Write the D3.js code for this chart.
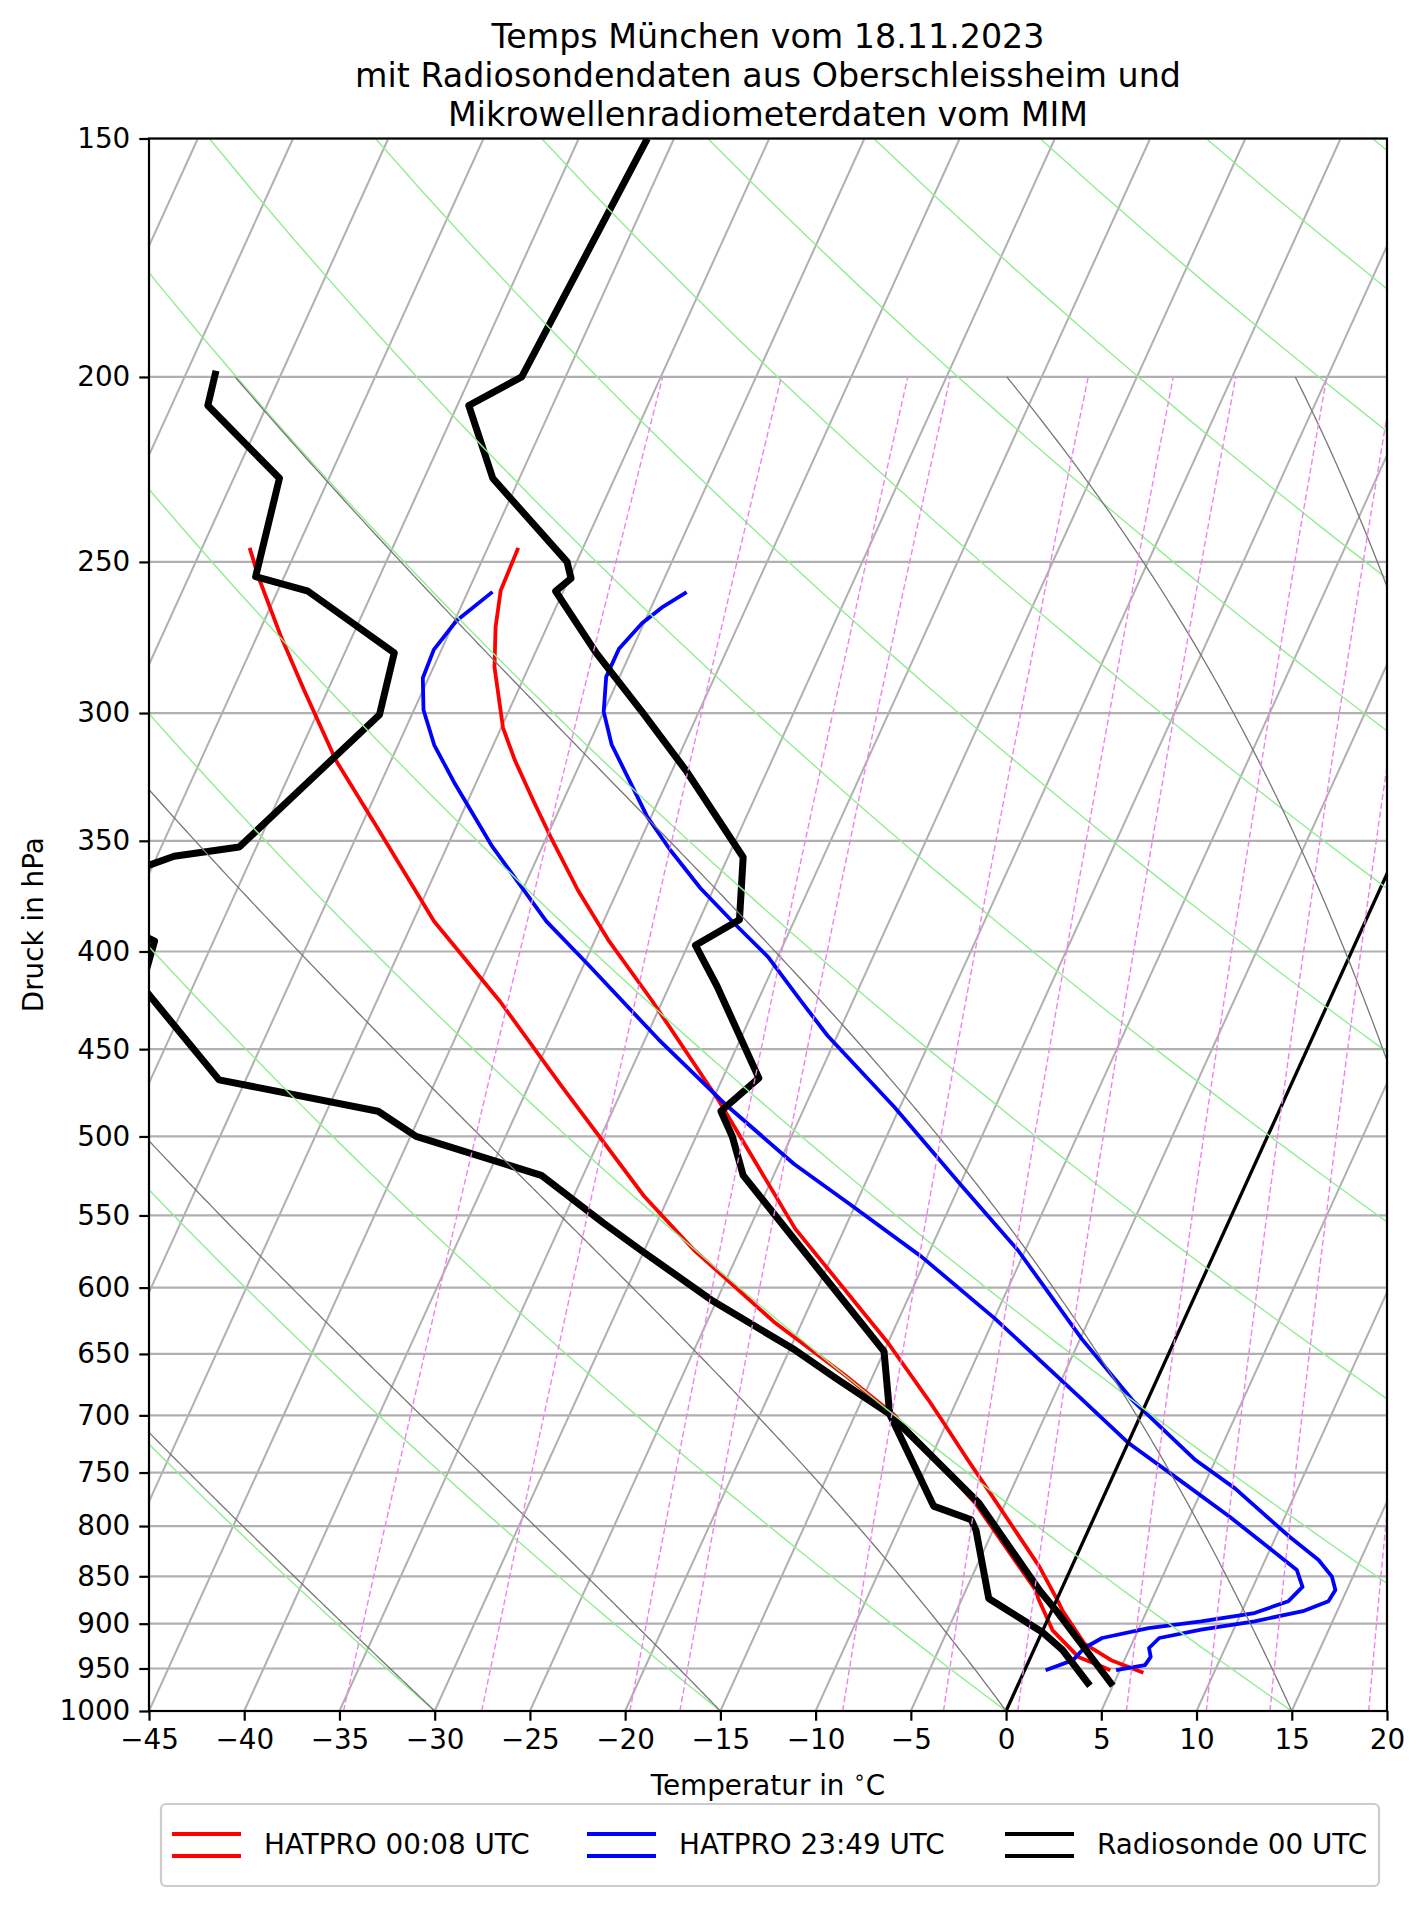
<!DOCTYPE html>
<html>
<head>
<meta charset="utf-8">
<script src="https://cdn.jsdelivr.net/npm/d3@7"></script>
<style>
  body { margin: 0; background: #fff; }
  text { font-family: "DejaVu Sans", sans-serif; fill: #000; }
</style>
</head>
<body>
<svg id="chart" width="1427" height="1907"></svg>
<script>
// pressure ticks (hPa) and temperature ticks (degC)
const pTicks = [150, 200, 250, 300, 350, 400, 450, 500, 550, 600, 650, 700, 750, 800, 850, 900, 950, 1000];
const tTicks = [-45, -40, -35, -30, -25, -20, -15, -10, -5, 0, 5, 10, 15, 20];

// Radiosonde Oberschleissheim 00 UTC
const sondeP  = [150, 200, 207, 226, 250, 255, 259, 279, 300, 322, 357, 385, 397, 417, 466, 485, 500, 524, 648, 699, 778, 865, 887, 970];
const sondeT  = [-56.4, -57.3, -59.4, -56.4, -50.5, -49.9, -50.4, -46.8, -42.9, -39.2, -34.2, -32.9, -34.6, -32.5, -28.1, -29.3, -28.1, -26.6, -15.0, -13.2, -6.4, -1.1, 0.3, 5.0];
const sondeDP = [198.5, 207, 226, 254.5, 259, 279, 300.6, 352.6, 356.6, 374, 395, 417, 467, 485, 500, 524, 555, 572, 609, 647, 670, 699, 781, 794, 804, 873, 909, 929, 970];
const sondeTd = [-73.5, -73.1, -67.6, -66.5, -63.4, -57.4, -56.7, -60.9, -64.1, -69, -63.1, -62.7, -56.4, -47.3, -44.7, -37.2, -32.8, -30.4, -25.3, -19.7, -16.8, -13.2, -8.7, -6.4, -5.9, -3.6, 0.0, 1.5, 3.8];

// HATPRO 00:08 UTC
const hat1P   = [245.8, 258.8, 270.4, 283.8, 305.4, 317.6, 333.2, 348.3, 371.4, 394.5, 424.1, 478.5, 558.8, 641.3, 687.2, 704.3, 738.8, 753.9, 840.2, 875.9, 886.6, 921.9, 940.5, 952, 955];
const hat1T   = [-53.4, -53.3, -52.7, -51.8, -49.9, -48.5, -46.6, -44.8, -42.1, -39.3, -35.6, -29.7, -22.6, -15.0, -11.5, -10.3, -8.0, -7.0, -1.7, 0.1, 0.6, 2.5, 4.3, 5.9, 6.3];
const hat1DP  = [245.8, 254.9, 273.1, 291.4, 317.6, 344.6, 385.7, 425, 470.2, 537.4, 573.4, 625.2, 666.7, 699, 778, 865, 873, 907, 936.8, 948.1, 952];
const hat1Td  = [-67.5, -66.3, -63.8, -61.3, -57.9, -54.1, -48.9, -43.5, -38.3, -31.3, -27.4, -21.5, -16.5, -13.0, -6.6, -1.3, -1.0, 0.5, 2.5, 4.0, 4.5];

// HATPRO 23:49 UTC
const hat2P   = [259.3, 263.9, 269.2, 277.6, 287.2, 299.5, 311.6, 323.9, 340, 353.9, 370.6, 386.6, 402.7, 424.1, 442.8, 482.5, 530.5, 573.4, 638.5, 687.2, 738.8, 764.5, 810.2, 833.4, 850.4, 864.2, 875.9, 886.6, 897.4, 906.5, 915.7, 926.8, 936.8, 946.2, 952];
const hat2T   = [-43.5, -44.4, -45.1, -45.7, -45.7, -45.0, -43.8, -42.2, -40.2, -38.2, -35.7, -33.1, -30.5, -27.8, -25.5, -20.3, -14.9, -10.4, -4.9, -0.8, 3.95, 6.7, 10.7, 12.8, 13.9, 14.4, 14.3, 13.2, 10.9, 8.3, 6.3, 6.0, 6.3, 6.2, 4.8];
const hat2DP  = [259.2, 268.4, 277.9, 287.6, 298.9, 311.8, 325.9, 351.9, 385.7, 406.2, 444.7, 480.5, 516.9, 542, 578, 622.5, 687.2, 724, 756.9, 791.1, 823.4, 843.6, 861, 875.9, 888.5, 897.4, 904.8, 915.7, 926.8, 940.5, 952];
const hat2Td  = [-53.7, -54.9, -55.4, -55.3, -54.5, -53.1, -51.2, -47.7, -43.0, -39.8, -34.3, -29.3, -24.2, -20.4, -15.3, -10.0, -3.4, 0.05, 3.6, 7.1, 10.1, 11.9, 12.6, 12.2, 10.7, 8.1, 5.5, 3.3, 2.6, 2.3, 1.1];

// background lines: dry adiabats (theta in degC at 1000 hPa), moist adiabats (start degC), mixing ratios (g/kg)
const dryTheta   = [-45, -30, -15, 0, 15, 30, 45, 60, 75, 90, 105, 120, 135, 150, 165, 180];
const moistStart = [-45, -30, -15, 0, 15, 30, 35];
const mixRatios  = [0.2, 0.4, 0.8, 1, 2, 3, 4, 6, 8, 10, 14, 20];

const legendNames  = ['HATPRO 00:08 UTC', 'HATPRO 23:49 UTC', 'Radiosonde 00 UTC'];
const legendColors = ['red', 'blue', 'black'];

// layout
const pL = 149, pR = 1387, pT = 138.5, pB = 1711;
const skew = 0.455;

const svg = d3.select('#chart');
const x = d3.scaleLinear().domain([-45, 20]).range([pL, pR]);
const y = d3.scaleLog().domain([1000, 150]).range([pB, pT]);
const sx = (t, p) => x(t) + skew * (pB - y(p));

const line = d3.line().x(d => sx(d[1], d[0])).y(d => y(d[0]));
const zip = (a, b) => a.map((v, i) => [v, b[i]]);

svg.append('defs').append('clipPath').attr('id', 'plot')
  .append('rect').attr('x', pL).attr('y', pT)
  .attr('width', pR - pL).attr('height', pB - pT);

const plot = svg.append('g').attr('clip-path', 'url(#plot)');

// isobars
plot.selectAll('.isobar').data(pTicks).enter().append('line')
  .attr('x1', pL).attr('x2', pR)
  .attr('y1', d => y(d)).attr('y2', d => y(d))
  .attr('stroke', '#b0b0b0').attr('stroke-width', 2.2);

// skewed isotherms
const isoT = d3.range(-130, 21, 5);
plot.selectAll('.isotherm').data(isoT).enter().append('path')
  .attr('d', t => line([[1000, t], [150, t]]))
  .attr('stroke', '#b0b0b0').attr('stroke-width', 2).attr('fill', 'none');

// physics helpers
const Rd = 287.04749, Cp = 1004.6662, Lv = 2.50084e6, eps = 0.621957, kappa = Rd / Cp;
const satVap = T => 6.112 * Math.exp(17.67 * (T - 273.15) / (T - 29.65));

function moistLine(t0) {
  const f = (p, T) => {
    const es = satVap(T), rs = eps * es / (p - es);
    return (Rd * T + Lv * rs) / (p * (Cp + Lv * Lv * rs * eps / (Rd * T * T)));
  };
  let T = t0 + 273.15;
  const pts = [], h = -2;
  for (let p = 1000; p >= 200 - 1e-9; p += h) {
    pts.push([p, T - 273.15]);
    const k1 = f(p, T), k2 = f(p + h / 2, T + h / 2 * k1),
          k3 = f(p + h / 2, T + h / 2 * k2), k4 = f(p + h, T + h * k3);
    T += h / 6 * (k1 + 2 * k2 + 2 * k3 + k4);
  }
  return pts;
}

function dryLine(th) {
  return d3.range(1000, 149, -10).map(p => [p, (th + 273.15) * Math.pow(p / 1000, kappa) - 273.15]);
}

function mixLine(w) {
  const r = w / 1000;
  return d3.range(1000, 199, -20).map(p => {
    const e = r * p / (eps + r), v = Math.log(e / 6.112);
    return [p, 243.5 * v / (17.67 - v)];
  });
}

// data curves
const curves = [
  { p: hat1P, t: hat1T, c: 'red', w: 3.8 },
  { p: hat1DP, t: hat1Td, c: 'red', w: 3.8 },
  { p: hat2P, t: hat2T, c: 'blue', w: 3.8 },
  { p: hat2DP, t: hat2Td, c: 'blue', w: 3.8 },
  { p: sondeP, t: sondeT, c: 'black', w: 7 },
  { p: sondeDP, t: sondeTd, c: 'black', w: 7 }
];
plot.selectAll('.curve').data(curves).enter().append('path')
  .attr('d', d => line(zip(d.p, d.t)))
  .attr('fill', 'none').attr('stroke', d => d.c).attr('stroke-width', d => d.w)
  .attr('stroke-linejoin', 'round');

// 0 degC isotherm
plot.append('path').attr('d', line([[1000, 0], [150, 0]]))
  .attr('stroke', 'black').attr('stroke-width', 3.3).attr('fill', 'none');

// dry adiabats
plot.selectAll('.dry').data(dryTheta).enter().append('path')
  .attr('d', th => line(dryLine(th)))
  .attr('fill', 'none').attr('stroke', '#90ee90').attr('stroke-width', 1.4);

// moist adiabats
plot.selectAll('.moist').data(moistStart).enter().append('path')
  .attr('d', t => line(moistLine(t)))
  .attr('fill', 'none').attr('stroke', '#777').attr('stroke-width', 1.3);

// mixing ratio lines
plot.selectAll('.mix').data(mixRatios).enter().append('path')
  .attr('d', w => line(mixLine(w)))
  .attr('fill', 'none').attr('stroke', '#ee82ee').attr('stroke-width', 1.4)
  .attr('stroke-dasharray', '6,3');

// spines
svg.append('rect').attr('x', pL).attr('y', pT)
  .attr('width', pR - pL).attr('height', pB - pT)
  .attr('fill', 'none').attr('stroke', 'black').attr('stroke-width', 2.2);

// axes
const yAxis = svg.append('g').attr('transform', `translate(${pL},0)`)
  .call(d3.axisLeft(y).tickValues(pTicks).tickFormat(d3.format('d')).tickSize(9.7).tickPadding(9));
const xAxis = svg.append('g').attr('transform', `translate(0,${pB})`)
  .call(d3.axisBottom(x).tickValues(tTicks).tickFormat(d3.format('d')).tickSize(9.7).tickPadding(9));
[yAxis, xAxis].forEach(a => {
  a.select('.domain').remove();
  a.selectAll('.tick line').attr('stroke', 'black').attr('stroke-width', 2.2);
  a.selectAll('.tick text').style('font-size', '27.8px').attr('font-family', '"DejaVu Sans", sans-serif');
});

// axis labels
const xl = svg.append('text').attr('x', (pL + pR) / 2).attr('y', 1795)
  .attr('text-anchor', 'middle').style('font-size', '27.8px');
xl.append('tspan').text('Temperatur in ');
xl.append('tspan').text('∘').attr('dy', -11).style('font-size', '20px');
xl.append('tspan').text('C').attr('dy', 11);

svg.append('text').attr('transform', `translate(43,${(pT + pB) / 2}) rotate(-90)`)
  .attr('text-anchor', 'middle').style('font-size', '27.8px').text('Druck in hPa');

// title
const titleLines = ['Temps München vom 18.11.2023', 'mit Radiosondendaten aus Oberschleissheim und', 'Mikrowellenradiometerdaten vom MIM'];
svg.selectAll('.title').data(titleLines).enter().append('text')
  .attr('x', (pL + pR) / 2).attr('y', (d, i) => 48 + i * 39)
  .attr('text-anchor', 'middle').style('font-size', '33.3px').text(d => d);

// legend
const lg = svg.append('g');
lg.append('rect').attr('x', 161).attr('y', 1804).attr('width', 1218).attr('height', 82)
  .attr('rx', 5).attr('fill', 'white').attr('stroke', '#cccccc').attr('stroke-width', 2.2);
const entryX = [172, 587, 1005];
legendNames.forEach((name, i) => {
  [1834, 1856].forEach(yy => {
    lg.append('line').attr('x1', entryX[i]).attr('x2', entryX[i] + 69)
      .attr('y1', yy).attr('y2', yy)
      .attr('stroke', legendColors[i]).attr('stroke-width', 4);
  });
  lg.append('text').attr('x', entryX[i] + 92).attr('y', 1854)
    .style('font-size', '27.8px').text(name);
});
</script>
</body>
</html>
